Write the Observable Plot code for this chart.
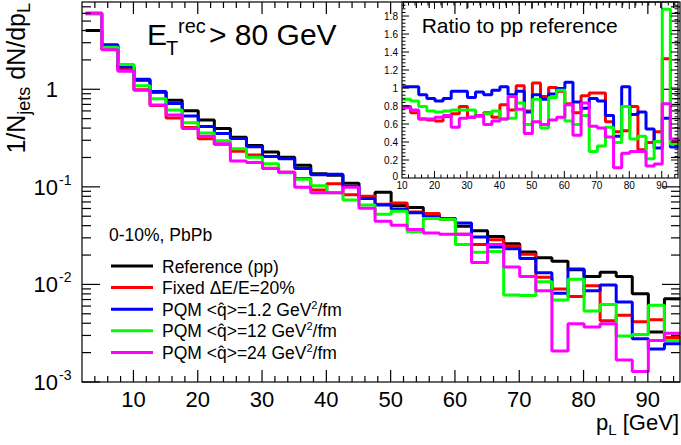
<!DOCTYPE html>
<html><head><meta charset="utf-8">
<script src="https://cdn.jsdelivr.net/npm/d3@7"></script>
<script src="https://cdn.jsdelivr.net/npm/@observablehq/plot@0.6"></script>
<style>
body{margin:0;background:#fff;}
#wrap{position:relative;width:681px;height:445px;overflow:hidden;}
#main,#inset{position:absolute;left:0;top:0;}
</style></head><body><div id="wrap"><div id="main"></div><div id="inset"></div></div>
<script>
// ---- data ----
const mainEdges = [2.5,5,7.5,10,12.5,15,17.5,20,22.5,25,27.5,30,32.5,35,37.5,40,42.5,45,47.5,50,52.5,55,57.5,60,62.5,65,67.5,70,72.5,75,77.5,80,82.5,85,87.5,90,92.5,95];
const ratioEdges = [10,12.5,15,17.5,20,22.5,25,27.5,30,32.5,35,37.5,40,42.5,45,47.5,50,52.5,55,57.5,60,62.5,65,67.5,70,72.5,75,77.5,80,82.5,85,87.5,90,92.5,95];

const ppRef   = [4.05,2.8,1.70,1.25,0.945,0.78,0.61,0.49,0.40,0.327,0.269,0.23,0.204,0.168,0.138,0.133,0.11,0.079,0.089,0.065,0.062,0.053,0.048,0.040,0.036,0.0314,0.0264,0.0217,0.019,0.0175,0.0143,0.0122,0.0135,0.0122,0.0081,0.0033,0.0072];
const fixedDE = [6.0,2.6,1.6,1.0,0.69,0.515,0.41,0.315,0.276,0.235,0.215,0.157,0.143,0.123,0.094,0.109,0.084,0.081,0.067,0.069,0.056,0.054,0.047,0.033,0.026,0.029,0.025,0.0206,0.012,0.0091,0.0076,0.0098,0.0043,0.0049,0.0042,0.0044,0.0029];
const pqm1p2  = [6.1,2.89,1.72,1.28,0.96,0.725,0.54,0.42,0.356,0.317,0.261,0.207,0.196,0.156,0.135,0.136,0.102,0.077,0.066,0.060,0.055,0.050,0.048,0.043,0.031,0.0245,0.0235,0.0187,0.0133,0.0082,0.0146,0.0087,0.0100,0.0067,0.0028,0.0022,0.0025];
const pqm12   = [6.0,2.73,1.82,1.10,0.81,0.62,0.46,0.36,0.30,0.249,0.204,0.175,0.141,0.121,0.104,0.088,0.074,0.066,0.053,0.057,0.035,0.048,0.047,0.026,0.0216,0.022,0.0079,0.0078,0.0108,0.0070,0.0114,0.0054,0.0063,0.0030,0.0031,0.0062,0.0027];
const pqm24   = [6.1,2.57,1.55,0.99,0.70,0.55,0.40,0.333,0.28,0.186,0.18,0.156,0.143,0.10,0.088,0.088,0.10,0.061,0.045,0.041,0.037,0.034,0.033,0.033,0.017,0.026,0.0153,0.0122,0.0087,0.0021,0.004,0.0037,0.004,0.0017,0.0013,0.0027,0.0032];

const ratioFixed = [0.80,0.73,0.66,0.65,0.64,0.69,0.72,0.80,0.68,0.70,0.73,0.68,0.82,0.76,1.03,0.75,1.06,0.91,1.01,0.97,0.83,0.73,0.92,0.95,0.95,0.63,0.52,0.53,0.80,0.32,0.40,0.52,1.33,0.40];
const ratio1p2   = [1.02,1.02,0.93,0.89,0.86,0.89,0.97,0.97,0.90,0.96,0.93,0.98,1.02,0.93,0.97,0.74,0.93,0.88,0.94,1.00,1.07,0.85,0.78,0.89,0.86,0.70,0.47,1.02,0.71,0.74,0.55,0.34,0.67,0.35];
const ratio12    = [0.88,0.86,0.80,0.75,0.74,0.75,0.76,0.76,0.76,0.69,0.72,0.75,0.66,0.67,0.84,0.60,0.88,0.56,0.90,0.98,0.64,0.60,0.70,0.30,0.36,0.57,0.40,0.80,0.44,0.47,0.22,0.41,1.88,0.38];
const ratio24    = [0.79,0.76,0.66,0.66,0.68,0.70,0.57,0.67,0.68,0.70,0.60,0.64,0.66,0.91,0.77,0.50,0.63,0.60,0.65,0.68,0.82,0.48,0.84,0.58,0.56,0.46,0.12,0.28,0.30,0.30,0.14,0.16,0.83,0.44];

const xTickLabels = [10,20,30,40,50,60,70,80,90];
const yTickValues = [1e-3,1e-2,1e-1,1];
const yTickLabels = [["10","-3"],["10","-2"],["10","-1"],["1",""]];
const ratioYLabels = [0,0.2,0.4,0.6,0.8,1,1.2,1.4,1.6,1.8];
const ratioXLabels = [10,20,30,40,50,60,70,80,90];
const legendHeader = "0-10%, PbPb";
const legendLabels = [["Reference (pp)","",""],["Fixed \u0394E/E=20%","",""],["PQM <q\u0302>=1.2 GeV","2","/fm"],["PQM <q\u0302>=12 GeV","2","/fm"],["PQM <q\u0302>=24 GeV","2","/fm"]];
const colors = ["#000000","#ff0000","#0000ff","#00ff00","#ff00ff"];

const FONT = "'Liberation Sans', Arial, Helvetica, sans-serif";

function stepData(edges, vals) {
  return edges.map((e, i) => ({x: e, y: vals[Math.min(i, vals.length - 1)]}));
}

function addText(g, x, y, str, size, anchor = "start") {
  return g.append("text").attr("x", x).attr("y", y).attr("font-size", size)
    .attr("font-family", FONT).attr("fill", "#000").attr("stroke", "none")
    .attr("text-anchor", anchor).text(str);
}
function addLine(g, x1, y1, x2, y2, w = 1.2, c = "#000") {
  g.append("line").attr("x1", x1).attr("y1", y1).attr("x2", x2).attr("y2", y2)
    .attr("stroke", c).attr("stroke-width", w).attr("fill", "none");
}

function mainFrame(index, scales, values, dims) {
  const x = scales.x, y = scales.y;
  const L = dims.marginLeft, R = dims.width - dims.marginRight;
  const T = dims.marginTop, B = dims.height - dims.marginBottom;
  const g = d3.create("svg:g").attr("text-anchor", "start");
  g.append("rect").attr("x", L).attr("y", T).attr("width", R - L).attr("height", B - T)
    .attr("fill", "none").attr("stroke", "#000").attr("stroke-width", 1.2);
  // x ticks (bottom + top)
  for (let v = 4; v < 95; v += 2) {
    const px = x(v), len = v % 10 === 0 ? 12 : 6;
    addLine(g, px, B, px, B - len);
    addLine(g, px, T, px, T + len);
  }
  // y ticks (left + right)
  for (let e = -3; e <= 0; e++) {
    for (let k = 1; k <= 9; k++) {
      const v = k * Math.pow(10, e);
      if (v < 1e-3 || v > 7.84) continue;
      const py = y(v), len = k === 1 ? 18 : 9;
      addLine(g, L, py, L + len, py);
      addLine(g, R, py, R - len, py);
    }
  }
  // x tick labels
  for (const v of xTickLabels) addText(g, x(v), 407, String(v), 22, "middle");
  // y tick labels
  yTickValues.forEach((v, i) => {
    const [base, sup] = yTickLabels[i];
    addText(g, 58, y(v) + 8, base, 22, "end");
    if (sup) addText(g, 59, y(v) - 2, sup, 14, "start");
  });
  // axis titles
  const yt = g.append("text").attr("transform", "translate(25,3) rotate(-90)")
    .attr("font-family", FONT).attr("text-anchor", "end").attr("fill", "#000");
  yt.append("tspan").attr("font-size", 25).text("1/N");
  yt.append("tspan").attr("font-size", 18).attr("dy", 5).text("jets");
  yt.append("tspan").attr("font-size", 25).attr("dy", -5).text(" dN/dp");
  yt.append("tspan").attr("font-size", 18).attr("dy", 5).text("L");
  const xt = g.append("text").attr("x", 679).attr("y", 430).attr("font-family", FONT)
    .attr("text-anchor", "end").attr("fill", "#000");
  xt.append("tspan").attr("font-size", 22).text("p");
  xt.append("tspan").attr("font-size", 15).attr("dy", 5).text("L");
  xt.append("tspan").attr("font-size", 22).attr("dy", -5).text(" [GeV]");
  // title
  addText(g, 147, 45, "E", 30);
  addText(g, 166, 55, "T", 20);
  addText(g, 178, 33, "rec", 20);
  addText(g, 209, 45, "> 80 GeV", 30);
  // legend
  addText(g, 109, 241, legendHeader, 17.5);
  legendLabels.forEach((lab, i) => {
    const ly = 266 + i * 21.6;
    addLine(g, 111, ly, 153, ly, 3, colors[i]);
    const t = g.append("text").attr("x", 162).attr("y", ly + 6.5).attr("font-family", FONT)
      .attr("font-size", 17.5).attr("fill", "#000").attr("text-anchor", "start");
    t.append("tspan").text(lab[0]);
    if (lab[1]) {
      t.append("tspan").attr("font-size", 11).attr("dy", -7).text(lab[1]);
      t.append("tspan").attr("dy", 7).text(lab[2]);
    }
  });
  return g.node();
}

function insetFrame(index, scales, values, dims) {
  const x = scales.x, y = scales.y;
  const L = dims.marginLeft, R = dims.width - dims.marginRight;
  const T = dims.marginTop, B = dims.height - dims.marginBottom;
  const g = d3.create("svg:g").attr("text-anchor", "start");
  g.append("rect").attr("x", L).attr("y", T).attr("width", R - L).attr("height", B - T)
    .attr("fill", "none").attr("stroke", "#000").attr("stroke-width", 1.1);
  for (let v = 12; v < 95; v += 2) {
    const px = x(v), len = v % 10 === 0 ? 7 : 3.5;
    addLine(g, px, B, px, B - len, 1);
    addLine(g, px, T, px, T + len, 1);
  }
  for (let i = 1; i * 0.04 < 1.956; i++) {
    const v = i * 0.04, py = y(v), len = i % 5 === 0 ? 7 : 3.5;
    addLine(g, L, py, L + len, py, 1);
    addLine(g, R, py, R - len, py, 1);
  }
  for (const v of ratioYLabels) addText(g, L - 4, y(v) + (v === 0 ? 1.5 : 3.6), String(v), 10, "end");
  for (const v of ratioXLabels) addText(g, x(v), 189, String(v), 10, "middle");
  addText(g, 421.7, 33, "Ratio to pp reference", 21);
  return g.node();
}

const mainSeries = [ppRef, fixedDE, pqm1p2, pqm12, pqm24];
const main = Plot.plot({
  width: 681, height: 445,
  marginLeft: 82, marginRight: 1, marginTop: 2, marginBottom: 63,
  x: {domain: [2, 95], axis: null},
  y: {type: "log", domain: [1e-3, 7.84], axis: null},
  style: {background: "transparent", overflow: "visible"},
  marks: [
    ...mainSeries.map((vals, i) => Plot.line(stepData(mainEdges, vals), {
      x: "x", y: "y", curve: "step-after", stroke: colors[i], strokeWidth: 3,
      strokeLinejoin: "miter", strokeLinecap: "butt"
    })),
    mainFrame
  ]
});
document.getElementById("main").appendChild(main);

const ratioSeries = [ratioFixed, ratio1p2, ratio12, ratio24];
const inset = Plot.plot({
  width: 681, height: 200,
  marginLeft: 402, marginRight: 3, marginTop: 2, marginBottom: 22,
  x: {domain: [10, 95], axis: null},
  y: {domain: [0, 1.956], axis: null},
  style: {background: "transparent", overflow: "visible"},
  marks: [
    ...ratioSeries.map((vals, i) => Plot.line(stepData(ratioEdges, vals), {
      x: "x", y: "y", curve: "step-after", stroke: colors[i + 1], strokeWidth: 3,
      strokeLinejoin: "miter", strokeLinecap: "butt"
    })),
    insetFrame
  ]
});
document.getElementById("inset").appendChild(inset);
</script>
</body></html>
